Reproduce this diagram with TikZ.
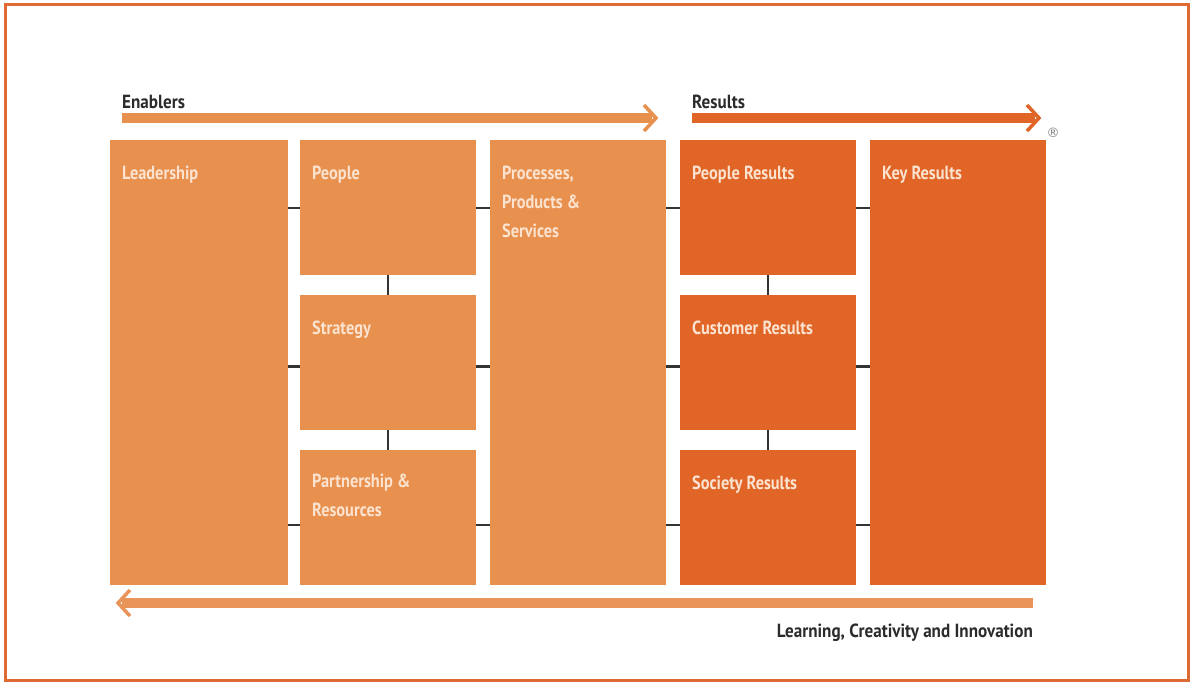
\documentclass[tikz,border=0pt]{standalone}
\usepackage{fontspec}
\setmainfont{PT Sans}
\newfontfamily\boxfont[FakeStretch=0.86]{PT Sans Bold}
\newfontfamily\lblfont[FakeStretch=0.9]{PT Sans Bold}
\newfontfamily\symfont{DejaVu Sans}
\definecolor{lightor}{HTML}{E8904E}
\definecolor{darkor}{HTML}{E06526}
\definecolor{arrlight}{HTML}{E9955A}
\definecolor{boxtxt}{HTML}{FBE3D0}
\definecolor{tickc}{HTML}{333333}
\definecolor{txtc}{HTML}{2B2B2B}
\definecolor{framec}{HTML}{E06A34}
\begin{document}
\begin{tikzpicture}[x=1pt,y=-1pt,
  box/.style={anchor=north west, inner sep=0pt, outer sep=0pt, minimum width=176pt},
  lightbox/.style={box, fill=lightor},
  darkbox/.style={box, fill=darkor},
  boxtext/.style={anchor=north west, inner sep=0pt, align=left, text=boxtxt, font=\boxfont\fontsize{19}{29}\selectfont},
  tick/.style={draw=tickc, line width=2.6pt},
  shaft/.style={line width=10pt},
  chev/.style={line width=3.5pt, line join=miter, line cap=butt},
  lbl/.style={inner sep=0pt, text=txtc, font=\lblfont\fontsize{19}{20}\selectfont}
]
\useasboundingbox (0,0) rectangle (1192,684);
\fill[white] (0,0) rectangle (1192,684);
\draw[draw=framec, line width=3pt] (5,5) rectangle (1188,680);

% boxes
\node[lightbox, minimum width=178pt, minimum height=445pt] (lead) at (110,140) {};
\node[lightbox, minimum height=135pt] (ppl) at (300,140) {};
\node[lightbox, minimum height=135pt] (str) at (300,295) {};
\node[lightbox, minimum height=135pt] (part) at (300,450) {};
\node[lightbox, minimum height=445pt] (proc) at (490,140) {};
\node[darkbox, minimum height=135pt] (pres) at (680,140) {};
\node[darkbox, minimum height=135pt] (cres) at (680,295) {};
\node[darkbox, minimum height=135pt] (sres) at (680,450) {};
\node[darkbox, minimum height=445pt] (key) at (870,140) {};

% box texts
\node[boxtext] (lead-t) at ([shift={(12,26)}]lead.north west) {Leadership};
\node[boxtext] (ppl-t) at ([shift={(12,26)}]ppl.north west) {People};
\node[boxtext] (str-t) at ([shift={(12,26)}]str.north west) {Strategy};
\node[boxtext] (part-t) at ([shift={(12,24)}]part.north west) {Partnership \&\\Resources};
\node[boxtext] (proc-t) at ([shift={(12,26)}]proc.north west) {Processes,\\Products \&\\Services};
\node[boxtext] (pres-t) at ([shift={(12,26)}]pres.north west) {People Results};
\node[boxtext] (cres-t) at ([shift={(12,26)}]cres.north west) {Customer Results};
\node[boxtext] (sres-t) at ([shift={(12,26)}]sres.north west) {Society Results};
\node[boxtext] (key-t) at ([shift={(12,26)}]key.north west) {Key Results};

% row ticks
\coordinate (r1l) at ([yshift=-0.5pt]ppl.west);
\coordinate (r1r) at ([yshift=-0.5pt]ppl.east);
\coordinate (q1l) at ([yshift=-0.5pt]pres.west);
\coordinate (q1r) at ([yshift=-0.5pt]pres.east);
\coordinate (r2l) at ([yshift=-4pt]str.west);
\coordinate (r2r) at ([yshift=-4pt]str.east);
\coordinate (q2l) at ([yshift=-4pt]cres.west);
\coordinate (q2r) at ([yshift=-4pt]cres.east);
\coordinate (r3l) at ([yshift=-7.5pt]part.west);
\coordinate (r3r) at ([yshift=-7.5pt]part.east);
\coordinate (q3l) at ([yshift=-7.5pt]sres.west);
\coordinate (q3r) at ([yshift=-7.5pt]sres.east);

\foreach \a/\b in {r1l/lead, r2l/lead, r3l/lead}
  \draw[tick] (\a) -- (\a -| \b.east);
\foreach \a/\b in {r1r/proc, r2r/proc, r3r/proc}
  \draw[tick] (\a) -- (\a -| \b.west);
\foreach \a/\b in {q1l/proc, q2l/proc, q3l/proc}
  \draw[tick] (\a) -- (\a -| \b.east);
\foreach \a/\b in {q1r/key, q2r/key, q3r/key}
  \draw[tick] (\a) -- (\a -| \b.west);

% column ticks
\draw[tick] (ppl.south) -- (str.north);
\draw[tick] (str.south) -- (part.north);
\draw[tick] (pres.south) -- (cres.north);
\draw[tick] (cres.south) -- (sres.north);

% Enablers arrow
\coordinate (en-a) at (122,118);
\coordinate (en-b) at (652,118);
\draw[shaft, draw=lightor] (en-a) -- (en-b);
\draw[chev, draw=lightor] ([shift={(-8,-13)}]en-b) -- ([shift={(4,0)}]en-b) -- ([shift={(-8,13)}]en-b);
\node[lbl, anchor=base west] (en-t) at (122,109) {Enablers};

% Results arrow
\coordinate (re-a) at (692,118);
\coordinate (re-b) at (1035,118);
\draw[shaft, draw=darkor] (re-a) -- (re-b);
\draw[chev, draw=darkor] ([shift={(-8,-13)}]re-b) -- ([shift={(4,0)}]re-b) -- ([shift={(-8,13)}]re-b);
\node[lbl, anchor=base west] (re-t) at (692,109) {Results};
\node[inner sep=0pt, text=gray, font=\symfont\fontsize{13}{13}\selectfont] (reg) at (1053,133) {®};

% Learning arrow
\coordinate (le-a) at (1033,603);
\coordinate (le-b) at (122,603);
\draw[shaft, draw=arrlight] (le-a) -- (le-b);
\draw[chev, draw=arrlight] ([shift={(8,-13)}]le-b) -- ([shift={(-4,0)}]le-b) -- ([shift={(8,13)}]le-b);
\node[lbl, anchor=base east] (le-t) at (1033,637) {Learning, Creativity and Innovation};
\end{tikzpicture}
\end{document}
